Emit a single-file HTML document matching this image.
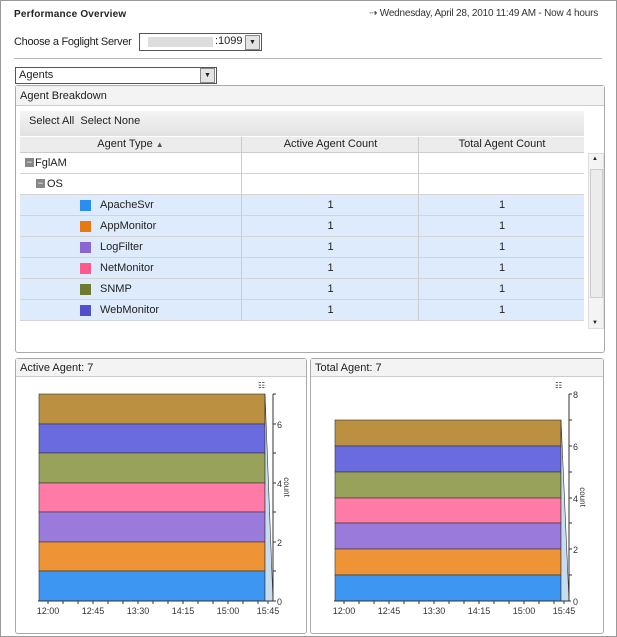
<!DOCTYPE html><html><head><style>
body{margin:0;width:617px;height:637px;background:#fff;font-family:"Liberation Sans",sans-serif;font-size:11px;color:#222;position:relative;overflow:hidden}
.a{position:absolute}
.row{position:absolute;left:20px;width:564px;height:20px;border-bottom:1px solid #d4d4d4}
.c{position:absolute;top:0;height:21px;line-height:20px;text-align:center}
.sw{position:absolute;left:60px;top:5px;width:11px;height:11px}
</style></head><body>
<div class="a" style="left:0;top:0;width:615px;height:635px;border:1px solid #999"></div>
<div class="a" style="left:14px;top:9px;font-weight:bold;font-size:10px;letter-spacing:0.2px">Performance Overview</div>
<div class="a" style="left:369px;top:8px;font-size:10px;color:#333;letter-spacing:-0.2px">⇢ Wednesday, April 28, 2010 11:49 AM - Now 4 hours</div>
<div class="a" style="left:14px;top:36px;font-size:11px;letter-spacing:-0.3px">Choose a Foglight Server</div>
<div class="a" style="left:139px;top:33px;width:121px;height:16px;border:1px solid #555;background:#fff"><span style="position:absolute;left:8px;top:3px;width:65px;height:10px;background:#ddd"></span><span style="position:absolute;left:75px;top:1px">:1099</span><span style="position:absolute;right:1px;top:1px;width:13px;height:13px;background:#e4e4e4;border:1px solid #888;font-size:7px;text-align:center;line-height:13px">▼</span></div>
<div class="a" style="left:14px;top:58px;width:588px;height:1px;background:#bbb"></div>
<div class="a" style="left:15px;top:67px;width:200px;height:15px;border:1px solid #555;background:#fff"><span style="position:absolute;left:3px;top:1px">Agents</span><span style="position:absolute;right:1px;top:0;width:13px;height:13px;background:#e4e4e4;border:1px solid #888;font-size:7px;text-align:center;line-height:13px">▼</span></div>
<div class="a" style="left:15px;top:85px;width:588px;height:266px;border:1px solid #aaa;border-radius:3px"></div>
<div class="a" style="left:16px;top:86px;width:588px;height:19px;background:#f3f3f3;border-bottom:1px solid #ccc"><span style="position:absolute;left:4px;top:4px">Agent Breakdown</span></div>
<div class="a" style="left:20px;top:111px;width:564px;height:25px;background:linear-gradient(#f4f4f4,#e2e2e2)"><span style="position:absolute;left:9px;top:4px">Select All &nbsp;Select None</span></div>
<div class="a" style="left:20px;top:137px;width:564px;height:15px;background:#ececec;border-bottom:1px solid #ccc">
<div class="c" style="left:0;width:221px;line-height:15px">Agent Type <span style="font-size:8px;color:#555">▲</span></div>
<div class="c" style="left:221px;width:177px;line-height:15px;border-left:1px solid #ccc;height:15px">Active Agent Count</div>
<div class="c" style="left:398px;width:166px;line-height:15px;border-left:1px solid #ccc;height:15px">Total Agent Count</div></div>
<div class="row" style="top:153px"><span style="position:absolute;left:5px;top:5px;width:9px;height:9px;background:#888;color:#fff;font-size:9px;line-height:8px;text-align:center">−</span><span style="position:absolute;left:15px;top:4px">FglAM</span><div class="c" style="left:221px;width:177px;border-left:1px solid #ccc"></div><div class="c" style="left:398px;width:166px;border-left:1px solid #ccc"></div></div>
<div class="row" style="top:174px"><span style="position:absolute;left:16px;top:5px;width:9px;height:9px;background:#888;color:#fff;font-size:9px;line-height:8px;text-align:center">−</span><span style="position:absolute;left:27px;top:4px">OS</span><div class="c" style="left:221px;width:177px;border-left:1px solid #ccc"></div><div class="c" style="left:398px;width:166px;border-left:1px solid #ccc"></div></div>
<div class="row" style="top:195px;background:#deebfc"><span class="sw" style="background:#2a8ef0"></span><span style="position:absolute;left:80px;top:4px">ApacheSvr</span><div class="c" style="left:221px;width:177px;border-left:1px solid #ccc">1</div><div class="c" style="left:398px;width:166px;border-left:1px solid #ccc">1</div></div>
<div class="row" style="top:216px;background:#deebfc"><span class="sw" style="background:#e87810"></span><span style="position:absolute;left:80px;top:4px">AppMonitor</span><div class="c" style="left:221px;width:177px;border-left:1px solid #ccc">1</div><div class="c" style="left:398px;width:166px;border-left:1px solid #ccc">1</div></div>
<div class="row" style="top:237px;background:#deebfc"><span class="sw" style="background:#8a66d0"></span><span style="position:absolute;left:80px;top:4px">LogFilter</span><div class="c" style="left:221px;width:177px;border-left:1px solid #ccc">1</div><div class="c" style="left:398px;width:166px;border-left:1px solid #ccc">1</div></div>
<div class="row" style="top:258px;background:#deebfc"><span class="sw" style="background:#ff5a90"></span><span style="position:absolute;left:80px;top:4px">NetMonitor</span><div class="c" style="left:221px;width:177px;border-left:1px solid #ccc">1</div><div class="c" style="left:398px;width:166px;border-left:1px solid #ccc">1</div></div>
<div class="row" style="top:279px;background:#deebfc"><span class="sw" style="background:#6e7a30"></span><span style="position:absolute;left:80px;top:4px">SNMP</span><div class="c" style="left:221px;width:177px;border-left:1px solid #ccc">1</div><div class="c" style="left:398px;width:166px;border-left:1px solid #ccc">1</div></div>
<div class="row" style="top:300px;background:#deebfc"><span class="sw" style="background:#5050cc"></span><span style="position:absolute;left:80px;top:4px">WebMonitor</span><div class="c" style="left:221px;width:177px;border-left:1px solid #ccc">1</div><div class="c" style="left:398px;width:166px;border-left:1px solid #ccc">1</div></div>
<div class="a" style="left:588px;top:153px;width:14px;height:174px;background:#f4f4f4;border:1px solid #ddd"><div style="position:absolute;left:1px;top:15px;width:11px;height:127px;background:#ececec;border:1px solid #ccc"></div><span style="position:absolute;left:3px;top:2px;font-size:6px">▲</span><span style="position:absolute;left:3px;bottom:2px;font-size:6px">▼</span></div>

<div class="a" style="left:15px;top:358px;width:290px;height:274px;border:1px solid #aaa;border-radius:3px"></div>
<div class="a" style="left:16px;top:359px;width:290px;height:17px;background:#f3f3f3;border-bottom:1px solid #ccc"><span style="position:absolute;left:4px;top:3px">Active Agent: 7</span></div>
<div class="a" style="left:310px;top:358px;width:292px;height:274px;border:1px solid #aaa;border-radius:3px"></div>
<div class="a" style="left:311px;top:359px;width:292px;height:17px;background:#f3f3f3;border-bottom:1px solid #ccc"><span style="position:absolute;left:4px;top:3px">Total Agent: 7</span></div>

<svg class="a" style="left:0;top:0" width="617" height="637" font-family="Liberation Sans" font-size="9" fill="#333">
<g stroke="#333" stroke-width="0.6">
<rect x="39" y="394" width="226" height="30" fill="#bb9040"/>
<rect x="39" y="424" width="226" height="29" fill="#6b6be0"/>
<rect x="39" y="453" width="226" height="30" fill="#98a25a"/>
<rect x="39" y="483" width="226" height="29" fill="#ff7aa6"/>
<rect x="39" y="512" width="226" height="30" fill="#9a7ada"/>
<rect x="39" y="542" width="226" height="29" fill="#ee9336"/>
<rect x="39" y="571" width="226" height="30" fill="#3d96f2"/>
<polygon points="265,394 273,601 265,601" fill="#c8dcf0"/>
<rect x="335" y="420" width="226" height="26" fill="#bb9040"/>
<rect x="335" y="446" width="226" height="26" fill="#6b6be0"/>
<rect x="335" y="472" width="226" height="26" fill="#98a25a"/>
<rect x="335" y="498" width="226" height="25" fill="#ff7aa6"/>
<rect x="335" y="523" width="226" height="26" fill="#9a7ada"/>
<rect x="335" y="549" width="226" height="26" fill="#ee9336"/>
<rect x="335" y="575" width="226" height="26" fill="#3d96f2"/>
<polygon points="561,420 569,601 561,601" fill="#c8dcf0"/>
</g>
<g stroke="#333" fill="none">
<path d="M273,394V601M38,601H275M569,394V601M334,601H571"/>
<path d="M273,424h3M273,453h3M273,483h3M273,512h3M273,542h3M273,571h3M273,601h3M273,394h3"/>
<path d="M569,394h3M569,420h3M569,446h3M569,472h3M569,498h3M569,523h3M569,549h3M569,575h3"/>
<path d="M48,601v3M63,601v3M78,601v3M93,601v3M108,601v3M123,601v3M138,601v3M153,601v3M168,601v3M183,601v3M198,601v3M213,601v3M228,601v3M243,601v3M258,601v3M268,601v3"/>
<path d="M344,601v3M359,601v3M374,601v3M389,601v3M404,601v3M419,601v3M434,601v3M449,601v3M464,601v3M479,601v3M494,601v3M509,601v3M524,601v3M539,601v3M554,601v3M564,601v3"/>
</g>
<text x="277" y="428">6</text><text x="277" y="487">4</text><text x="277" y="546">2</text><text x="277" y="605">0</text>
<text x="573" y="398">8</text><text x="573" y="450">6</text><text x="573" y="502">4</text><text x="573" y="553">2</text><text x="573" y="605">0</text>
<text transform="translate(284,487) rotate(90)" text-anchor="middle" font-size="8">count</text>
<text transform="translate(580,497) rotate(90)" text-anchor="middle" font-size="8">count</text>
<g text-anchor="middle"><text x="48" y="614">12:00</text><text x="93" y="614">12:45</text><text x="138" y="614">13:30</text><text x="183" y="614">14:15</text><text x="228" y="614">15:00</text><text x="268" y="614">15:45</text>
<text x="344" y="614">12:00</text><text x="389" y="614">12:45</text><text x="434" y="614">13:30</text><text x="479" y="614">14:15</text><text x="524" y="614">15:00</text><text x="564" y="614">15:45</text></g>
<text x="258" y="388" font-size="8">☷</text><text x="555" y="388" font-size="8">☷</text>
</svg>
</body></html>
